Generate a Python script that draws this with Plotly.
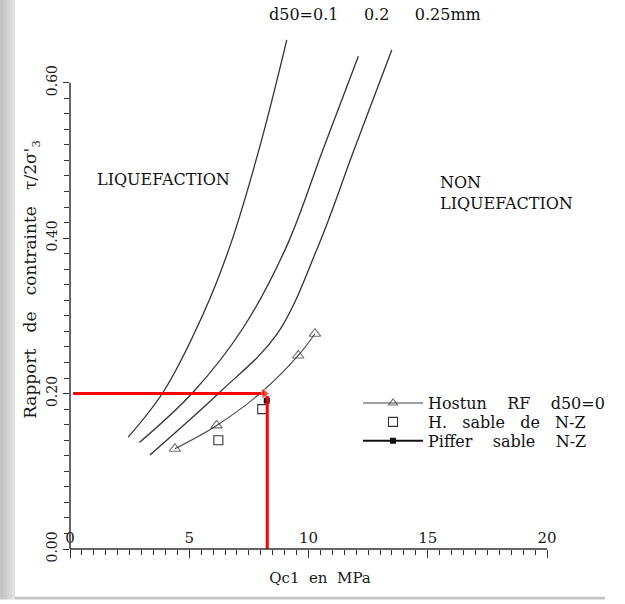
import plotly.graph_objects as go

# ---- data ----
curve_d01_x = [2.44, 3.91, 5.58, 6.71, 7.97, 9.09]
curve_d01_y = [0.144, 0.202, 0.302, 0.390, 0.519, 0.655]
curve_d02_x = [2.91, 5.17, 7.27, 9.09, 10.62, 12.09]
curve_d02_y = [0.137, 0.202, 0.285, 0.390, 0.515, 0.634]
curve_d025_x = [3.35, 6.29, 8.67, 10.41, 11.88, 13.49]
curve_d025_y = [0.121, 0.202, 0.276, 0.390, 0.511, 0.642]

hostun_x = [4.40, 6.15, 8.04, 9.57, 10.27]
hostun_y = [0.129, 0.159, 0.202, 0.249, 0.277]
sable_x = [6.22, 8.06]
sable_y = [0.140, 0.180]
piffer_x = [8.25]
piffer_y = [0.191]

red_h_x = [0.13, 8.15]
red_h_y = [0.20, 0.20]
red_v_x = [8.27, 8.27]
red_v_y = [0.197, 0.0]

x_major = [0, 5, 10, 15, 20]
x_labels = ["0", "5", "10", "15", "20"]
y_major = [0.0, 0.2, 0.4, 0.6]
y_labels = ["0.00", "0.20", "0.40", "0.60"]

FONT = "DejaVu Serif"
INK = "#1a1a1a"


def sp(n):
    return "\u00a0" * n


fig = go.Figure()

for cx, cy in [(curve_d01_x, curve_d01_y), (curve_d02_x, curve_d02_y), (curve_d025_x, curve_d025_y)]:
    fig.add_trace(go.Scatter(x=cx, y=cy, mode="lines", showlegend=False, hoverinfo="skip",
                             line=dict(color="#333333", width=1.3, shape="spline", smoothing=1.0)))

fig.add_trace(go.Scatter(x=hostun_x, y=hostun_y, mode="lines+markers",
                         name="Hostun" + sp(4) + "RF" + sp(4) + "d50=0", legend="legend",
                         line=dict(color="#444444", width=1.1, shape="spline"),
                         marker=dict(symbol="triangle-up-open", size=[10, 10, 0, 10, 10], color="#333333",
                                     line=dict(width=1.1))))
fig.add_trace(go.Scatter(x=sable_x, y=sable_y, mode="markers",
                         name="H." + sp(3) + "sable" + sp(3) + "de" + sp(3) + "N-Z", legend="legend2",
                         marker=dict(symbol="square-open", size=9, color="#333333", line=dict(width=1.1))))
fig.add_trace(go.Scatter(x=piffer_x, y=piffer_y, mode="lines+markers",
                         name="Piffer" + sp(4) + "sable" + sp(4) + "N-Z", legend="legend3",
                         line=dict(color="#111111", width=2),
                         marker=dict(symbol="square", size=6, color="#111111")))

# red reading lines
fig.add_trace(go.Scatter(x=red_h_x, y=red_h_y, mode="lines+markers", showlegend=False, hoverinfo="skip",
                         line=dict(color="#ff0000", width=3),
                         marker=dict(symbol="triangle-right", size=[0, 10], color="#ff0000")))
fig.add_trace(go.Scatter(x=red_v_x, y=red_v_y, mode="lines", showlegend=False, hoverinfo="skip",
                         line=dict(color="#ff0000", width=3)))

# axis lines (only 0..20 and 0..0.6 as in the reference)
fig.add_shape(type="line", xref="x", yref="paper", x0=0, x1=20, y0=0, y1=0,
              line=dict(color="#333333", width=1.5))
fig.add_shape(type="line", xref="paper", yref="y", x0=0, x1=0, y0=0, y1=0.6,
              line=dict(color="#333333", width=1.5))

# grey scan borders
greys = ["#c4c4c4", "#cbcbcb", "#d2d2d2", "#d9d9d9", "#e0e0e0"]
for i, g in enumerate(greys):
    fig.add_shape(type="rect", xref="paper", yref="paper",
                  x0=(-70 + 3 * i) / 500, x1=(-70 + 3 * (i + 1)) / 500,
                  y0=-51 / 543, y1=563 / 543, fillcolor=g, line=dict(width=0), layer="below")
fig.add_shape(type="rect", xref="paper", yref="paper",
              x0=-55 / 500, x1=535 / 500, y0=-51 / 543, y1=-48 / 543,
              fillcolor="#c4c4c4", line=dict(width=0), layer="below")

# texts
fig.add_annotation(x=3.90, y=0.475, xref="x", yref="y", text="LIQUEFACTION", showarrow=False,
                   font=dict(family=FONT, size=16, color="#111111"))
fig.add_annotation(x=15.43, y=0.458, xref="x", yref="y", text="NON<br>LIQUEFACTION", showarrow=False,
                   xanchor="left", align="left", font=dict(family=FONT, size=16, color="#111111"))
fig.add_annotation(x=12.78, y=0.688, xref="x", yref="y",
                   text="d50=0.1" + sp(5) + "0.2" + sp(5) + "0.25mm", showarrow=False,
                   font=dict(family=FONT, size=16, color="#111111"))

legend_common = dict(xanchor="left", yanchor="middle", bgcolor="rgba(0,0,0,0)",
                     font=dict(family=FONT, size=16, color="#111111"), itemwidth=60)

fig.update_layout(
    width=625, height=604,
    margin=dict(l=70, r=55, t=10, b=51),
    paper_bgcolor="white", plot_bgcolor="white",
    font=dict(family=FONT, size=14, color=INK),
    showlegend=True,
    legend=dict(x=(358 - 70) / 500, y=(553 - 406) / 543, **legend_common),
    legend2=dict(x=(358 - 70) / 500, y=(553 - 425) / 543, **legend_common),
    legend3=dict(x=(358 - 70) / 500, y=(553 - 444) / 543, **legend_common),
    xaxis=dict(range=[0, 500 / 23.85], showgrid=False, zeroline=False, showline=False,
               tickmode="array", tickvals=x_major, ticktext=x_labels,
               ticks="outside", ticklen=8, tickwidth=1.3, tickcolor="#333333",
               ticklabelposition="inside", ticklabeloverflow="allow",
               tickfont=dict(family=FONT, size=15, color=INK),
               minor=dict(tickmode="array", tickvals=[i * 0.5 for i in range(41) if i % 10],
                          ticks="outside", ticklen=5, tickwidth=1.1, tickcolor="#333333"),
               title=dict(text=sp(5) + "Qc1" + sp(2) + "en" + sp(2) + "MPa",
                          font=dict(family=FONT, size=15, color=INK), standoff=26)),
    yaxis=dict(range=[0, 543 / 783], showgrid=False, zeroline=False, showline=False,
               tickmode="array", tickvals=y_major, ticktext=y_labels,
               ticks="outside", ticklen=6, tickwidth=1.3, tickcolor="#333333", tickangle=-90,
               tickfont=dict(family=FONT, size=14, color=INK),
               minor=dict(tickmode="array", tickvals=[i * 0.02 for i in range(31) if i % 10],
                          ticks="outside", ticklen=5, tickwidth=1.1, tickcolor="#333333"),
               title=dict(text="Rapport" + sp(3) + "de" + sp(3) + "contrainte" + sp(3) + "τ/2σ'<sub>3</sub>",
                          font=dict(family=FONT, size=17, color=INK), standoff=3)),
)

fig.write_html("out.html")
